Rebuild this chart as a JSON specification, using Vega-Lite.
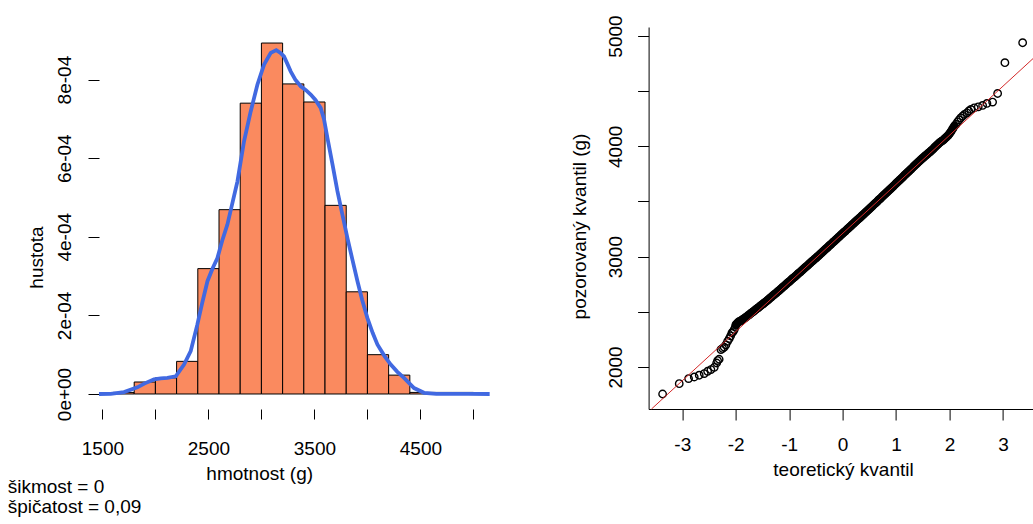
{
  "$schema": "https://vega.github.io/schema/vega-lite/v6.json",
  "background": "white",
  "padding": {"left": 7, "top": 14, "right": 0, "bottom": 0},
  "bounds": "flush",
  "spacing": 157.6,
  "config": {
    "view": {"stroke": null},
    "axis": {
      "grid": false,
      "labelFont": "Liberation Sans",
      "titleFont": "Liberation Sans",
      "labelFontSize": 19,
      "titleFontSize": 19,
      "titleFontWeight": "normal",
      "labelColor": "black",
      "titleColor": "black",
      "tickColor": "black",
      "domainColor": "black",
      "tickWidth": 1,
      "domainWidth": 1,
      "labelOverlap": false,
      "labelFlush": false
    }
  },
  "datasets": {
    "hist": [
      {"x": 1600, "x2": 1800, "y": 0.000004},
      {"x": 1800, "x2": 2000, "y": 0.0000305},
      {"x": 2000, "x2": 2200, "y": 0.000041},
      {"x": 2200, "x2": 2400, "y": 0.000083},
      {"x": 2400, "x2": 2600, "y": 0.000319},
      {"x": 2600, "x2": 2800, "y": 0.000469},
      {"x": 2800, "x2": 3000, "y": 0.00074},
      {"x": 3000, "x2": 3200, "y": 0.000893},
      {"x": 3200, "x2": 3400, "y": 0.000789},
      {"x": 3400, "x2": 3600, "y": 0.000743},
      {"x": 3600, "x2": 3800, "y": 0.00048},
      {"x": 3800, "x2": 4000, "y": 0.00026},
      {"x": 4000, "x2": 4200, "y": 0.0001},
      {"x": 4200, "x2": 4400, "y": 0.000048},
      {"x": 4400, "x2": 4600, "y": 0.000004},
      {"x": 4600, "x2": 4800, "y": 0.000004},
      {"x": 4800, "x2": 5000, "y": 0.000004}
    ],
    "dens": [
      {"x": 1468, "y": 0}, {"x": 1578, "y": 0.0000005}, {"x": 1704, "y": 0.000005},
      {"x": 1830, "y": 0.000017}, {"x": 1900, "y": 0.000027}, {"x": 1987, "y": 0.000037},
      {"x": 2050, "y": 0.00004}, {"x": 2113, "y": 0.000041}, {"x": 2192, "y": 0.000045},
      {"x": 2270, "y": 0.000075}, {"x": 2333, "y": 0.000109}, {"x": 2396, "y": 0.000177},
      {"x": 2440, "y": 0.00023}, {"x": 2491, "y": 0.000287}, {"x": 2540, "y": 0.00032},
      {"x": 2585, "y": 0.000346}, {"x": 2630, "y": 0.00039}, {"x": 2679, "y": 0.000431},
      {"x": 2730, "y": 0.00049}, {"x": 2774, "y": 0.000541}, {"x": 2836, "y": 0.000643},
      {"x": 2899, "y": 0.000719}, {"x": 2962, "y": 0.000787}, {"x": 3025, "y": 0.000838},
      {"x": 3088, "y": 0.000868}, {"x": 3140, "y": 0.000875}, {"x": 3180, "y": 0.000868},
      {"x": 3213, "y": 0.000859}, {"x": 3245, "y": 0.00084}, {"x": 3276, "y": 0.000821},
      {"x": 3320, "y": 0.0008}, {"x": 3371, "y": 0.000783}, {"x": 3420, "y": 0.000773},
      {"x": 3465, "y": 0.000762}, {"x": 3510, "y": 0.000748}, {"x": 3559, "y": 0.000728},
      {"x": 3590, "y": 0.0007}, {"x": 3623, "y": 0.000651}, {"x": 3670, "y": 0.000585},
      {"x": 3717, "y": 0.000516}, {"x": 3765, "y": 0.000455}, {"x": 3811, "y": 0.000397},
      {"x": 3860, "y": 0.00034}, {"x": 3906, "y": 0.000287}, {"x": 3950, "y": 0.00024},
      {"x": 4000, "y": 0.000193}, {"x": 4050, "y": 0.000155}, {"x": 4094, "y": 0.000126},
      {"x": 4160, "y": 0.000097}, {"x": 4220, "y": 0.000075}, {"x": 4280, "y": 0.000057},
      {"x": 4345, "y": 0.000041}, {"x": 4440, "y": 0.000015}, {"x": 4534, "y": 0.000003},
      {"x": 4650, "y": 0.0000005}, {"x": 4800, "y": 0.0000003}, {"x": 4950, "y": 0.0000003},
      {"x": 5153, "y": 0}
    ],
    "qq": [
      {"q": -3.368, "v": 1755}, {"q": -3.057, "v": 1849}, {"q": -2.882, "v": 1895},
      {"q": -2.776, "v": 1909}, {"q": -2.683, "v": 1925}, {"q": -2.589, "v": 1940},
      {"q": -2.526, "v": 1961}, {"q": -2.464, "v": 1976}, {"q": -2.402, "v": 1997},
      {"q": -2.357, "v": 2036}, {"q": -2.339, "v": 2058}, {"q": -2.31, "v": 2070},
      {"q": -2.277, "v": 2158}, {"q": -2.245, "v": 2168}, {"q": -2.215, "v": 2179},
      {"q": -2.185, "v": 2200}, {"q": -2.152, "v": 2233}, {"q": -2.121, "v": 2257},
      {"q": -2.095, "v": 2282}, {"q": -2.071, "v": 2308}, {"q": -2.05, "v": 2320},
      {"q": -2.028, "v": 2339}, {"q": -2.01, "v": 2360}, {"q": -1.996, "v": 2384},
      {"q": -1.97, "v": 2398}, {"q": -1.946, "v": 2408}, {"q": -1.92, "v": 2415},
      {"q": -1.9, "v": 2420}, {"q": -1.871, "v": 2430}, {"q": -1.84, "v": 2440},
      {"q": -1.809, "v": 2451},
      {"q": -1.78, "v": 2462}, {"q": -1.75, "v": 2473}, {"q": -1.72, "v": 2485},
      {"q": -1.69, "v": 2496}, {"q": -1.66, "v": 2507}, {"q": -1.63, "v": 2519},
      {"q": -1.6, "v": 2530}, {"q": -1.57, "v": 2541}, {"q": -1.54, "v": 2553},
      {"q": -1.51, "v": 2564}, {"q": -1.48, "v": 2575}, {"q": -1.45, "v": 2587},
      {"q": -1.42, "v": 2598}, {"q": -1.39, "v": 2611}, {"q": -1.36, "v": 2623},
      {"q": -1.33, "v": 2636}, {"q": -1.3, "v": 2648}, {"q": -1.27, "v": 2661},
      {"q": -1.24, "v": 2672}, {"q": -1.21, "v": 2686}, {"q": -1.18, "v": 2697},
      {"q": -1.15, "v": 2710}, {"q": -1.12, "v": 2724}, {"q": -1.09, "v": 2735},
      {"q": -1.06, "v": 2748}, {"q": -1.03, "v": 2762}, {"q": -1.0, "v": 2773},
      {"q": -0.97, "v": 2786}, {"q": -0.94, "v": 2800}, {"q": -0.91, "v": 2811},
      {"q": -0.88, "v": 2824}, {"q": -0.85, "v": 2838}, {"q": -0.82, "v": 2851},
      {"q": -0.79, "v": 2862}, {"q": -0.76, "v": 2876}, {"q": -0.73, "v": 2889},
      {"q": -0.7, "v": 2903}, {"q": -0.67, "v": 2914}, {"q": -0.64, "v": 2927},
      {"q": -0.61, "v": 2941}, {"q": -0.58, "v": 2954}, {"q": -0.55, "v": 2967},
      {"q": -0.52, "v": 2979}, {"q": -0.49, "v": 2992}, {"q": -0.46, "v": 3005},
      {"q": -0.43, "v": 3019}, {"q": -0.4, "v": 3032}, {"q": -0.37, "v": 3045},
      {"q": -0.34, "v": 3059}, {"q": -0.31, "v": 3072}, {"q": -0.28, "v": 3085},
      {"q": -0.25, "v": 3099}, {"q": -0.22, "v": 3112}, {"q": -0.19, "v": 3126},
      {"q": -0.16, "v": 3139}, {"q": -0.13, "v": 3152}, {"q": -0.1, "v": 3166},
      {"q": -0.07, "v": 3179}, {"q": -0.04, "v": 3192}, {"q": -0.01, "v": 3206},
      {"q": 0.02, "v": 3219}, {"q": 0.05, "v": 3232}, {"q": 0.08, "v": 3246},
      {"q": 0.11, "v": 3259}, {"q": 0.14, "v": 3272}, {"q": 0.17, "v": 3286},
      {"q": 0.2, "v": 3299}, {"q": 0.23, "v": 3312}, {"q": 0.26, "v": 3326},
      {"q": 0.29, "v": 3339}, {"q": 0.32, "v": 3352}, {"q": 0.35, "v": 3366},
      {"q": 0.38, "v": 3379}, {"q": 0.41, "v": 3393}, {"q": 0.44, "v": 3406},
      {"q": 0.47, "v": 3419}, {"q": 0.5, "v": 3433}, {"q": 0.53, "v": 3447},
      {"q": 0.56, "v": 3461}, {"q": 0.59, "v": 3475}, {"q": 0.62, "v": 3488},
      {"q": 0.65, "v": 3502}, {"q": 0.68, "v": 3516}, {"q": 0.71, "v": 3529},
      {"q": 0.74, "v": 3543}, {"q": 0.77, "v": 3557}, {"q": 0.8, "v": 3571},
      {"q": 0.83, "v": 3584}, {"q": 0.86, "v": 3598}, {"q": 0.89, "v": 3612},
      {"q": 0.92, "v": 3626}, {"q": 0.95, "v": 3640}, {"q": 0.98, "v": 3654},
      {"q": 1.01, "v": 3668}, {"q": 1.04, "v": 3682}, {"q": 1.07, "v": 3696},
      {"q": 1.1, "v": 3710}, {"q": 1.13, "v": 3724}, {"q": 1.16, "v": 3738},
      {"q": 1.19, "v": 3752}, {"q": 1.22, "v": 3766}, {"q": 1.25, "v": 3780},
      {"q": 1.28, "v": 3794}, {"q": 1.31, "v": 3808}, {"q": 1.34, "v": 3822},
      {"q": 1.37, "v": 3836}, {"q": 1.4, "v": 3850}, {"q": 1.43, "v": 3864},
      {"q": 1.46, "v": 3877}, {"q": 1.49, "v": 3890}, {"q": 1.52, "v": 3903},
      {"q": 1.55, "v": 3916}, {"q": 1.58, "v": 3928}, {"q": 1.61, "v": 3940},
      {"q": 1.64, "v": 3953}, {"q": 1.67, "v": 3966}, {"q": 1.7, "v": 3980},
      {"q": 1.73, "v": 3994}, {"q": 1.76, "v": 4008}, {"q": 1.79, "v": 4022},
      {"q": 1.82, "v": 4036}, {"q": 1.85, "v": 4046}, {"q": 1.88, "v": 4055},
      {"q": 1.91, "v": 4070}, {"q": 1.94, "v": 4084}, {"q": 1.97, "v": 4096},
      {"q": 2.0, "v": 4116}, {"q": 2.03, "v": 4136}, {"q": 2.06, "v": 4160},
      {"q": 2.09, "v": 4184}, {"q": 2.12, "v": 4200}, {"q": 2.15, "v": 4222},
      {"q": 2.18, "v": 4240}, {"q": 2.21, "v": 4258},
      {"q": 2.245, "v": 4274}, {"q": 2.28, "v": 4290}, {"q": 2.326, "v": 4304},
      {"q": 2.36, "v": 4320}, {"q": 2.4, "v": 4334}, {"q": 2.462, "v": 4349},
      {"q": 2.537, "v": 4358}, {"q": 2.619, "v": 4371}, {"q": 2.7, "v": 4389},
      {"q": 2.806, "v": 4401}, {"q": 2.9, "v": 4479}, {"q": 3.036, "v": 4758},
      {"q": 3.368, "v": 4939}
    ],
    "qqline": [
      {"q": -3.576, "v": 1619},
      {"q": 3.586, "v": 4806}
    ]
  },
  "hconcat": [
    {
      "width": 391.4,
      "height": 382,
      "title": {
        "text": ["šikmost = 0", "špičatost = 0,09"],
        "orient": "bottom",
        "anchor": "start",
        "frame": "group",
        "dx": -91.3,
        "offset": -5,
        "font": "Liberation Sans",
        "fontSize": 19,
        "fontWeight": "normal",
        "lineHeight": 20,
        "color": "black"
      },
      "encoding": {
        "x": {
          "field": "x",
          "type": "quantitative",
          "title": "hmotnost (g)",
          "scale": {"domain": [1468, 5160], "nice": false, "zero": false},
          "axis": {
            "values": [1500, 2000, 2500, 3000, 3500, 4000, 4500, 5000],
            "format": "d",
            "labelExpr": "(datum.value - 1500) % 1000 == 0 ? datum.label : ''",
            "domain": false,
            "tickSize": 10,
            "labelPadding": 20,
            "titleX": 160.2,
            "titleY": 70,
            "titleAlign": "center",
            "titleBaseline": "alphabetic"
          }
        },
        "y": {
          "field": "y",
          "type": "quantitative",
          "title": "hustota",
          "scale": {"domain": [-0.0000382, 0.0009338], "nice": false, "zero": false},
          "axis": {
            "values": [0, 0.0002, 0.0004, 0.0006, 0.0008],
            "labelExpr": "['0e+00','2e-04','4e-04','6e-04','8e-04'][round(datum.value*5000)]",
            "domain": false,
            "tickSize": 11,
            "labelPadding": 14,
            "labelAngle": 270,
            "labelAlign": "center",
            "labelBaseline": "bottom",
            "titleAngle": 270,
            "titleX": -56.6,
            "titleY": 230,
            "titleAlign": "center",
            "titleBaseline": "alphabetic"
          }
        }
      },
      "layer": [
        {
          "data": {"name": "hist"},
          "mark": {"type": "bar", "fill": "#FA8A5F", "stroke": "black", "strokeWidth": 1},
          "encoding": {
            "x2": {"field": "x2"},
            "y2": {"datum": 0}
          }
        },
        {
          "data": {"name": "dens"},
          "mark": {"type": "line", "color": "#4169E1", "strokeWidth": 3.8},
          "encoding": {}
        },
        {
          "data": {"values": [{}]},
          "mark": {"type": "rule", "color": "black", "strokeWidth": 1},
          "encoding": {
            "x": {"datum": 1500, "type": "quantitative"},
            "x2": {"datum": 5000},
            "y": {"datum": -0.0000382, "type": "quantitative"}
          }
        },
        {
          "data": {"values": [{}]},
          "mark": {"type": "rule", "color": "black", "strokeWidth": 1},
          "encoding": {
            "x": {"datum": 1468, "type": "quantitative"},
            "y": {"datum": 0, "type": "quantitative"},
            "y2": {"datum": 0.0008}
          }
        }
      ]
    },
    {
      "width": 385.7,
      "height": 382,
      "encoding": {
        "x": {
          "field": "q",
          "type": "quantitative",
          "title": "teoretický kvantil",
          "scale": {"domain": [-3.63, 3.586], "nice": false, "zero": false},
          "axis": {
            "values": [-3, -2, -1, 0, 1, 2, 3],
            "labelExpr": "toString(datum.value)",
            "domain": true,
            "tickSize": 11,
            "labelPadding": 15,
            "titleX": 194.4,
            "titleY": 66,
            "titleAlign": "center",
            "titleBaseline": "alphabetic"
          }
        },
        "y": {
          "field": "v",
          "type": "quantitative",
          "title": "pozorovaný kvantil (g)",
          "scale": {"domain": [1619, 5081.6], "nice": false, "zero": false},
          "axis": {
            "values": [2000, 2500, 3000, 3500, 4000, 4500, 5000],
            "format": "d",
            "labelExpr": "datum.value % 1000 == 0 ? datum.label : ''",
            "domain": true,
            "tickSize": 11,
            "labelPadding": 12,
            "labelAngle": 270,
            "labelAlign": "center",
            "labelBaseline": "bottom",
            "titleAngle": 270,
            "titleX": -63.3,
            "titleY": 199,
            "titleAlign": "center",
            "titleBaseline": "alphabetic"
          }
        }
      },
      "layer": [
        {
          "data": {"name": "qq"},
          "transform": [{"filter": "datum.q > -2.0 && datum.q < 2.1"}],
          "mark": {"type": "line", "color": "black", "strokeWidth": 8, "strokeCap": "round", "strokeJoin": "round"},
          "encoding": {}
        },
        {
          "data": {"name": "qq"},
          "mark": {"type": "point", "filled": false, "color": "black", "size": 55, "strokeWidth": 1.4, "opacity": 1}
        },
        {
          "data": {"name": "qqline"},
          "mark": {"type": "line", "color": "#D42A2A", "strokeWidth": 1},
          "encoding": {}
        },
        {
          "data": {"values": [{}]},
          "mark": {"type": "rule", "color": "black", "strokeWidth": 1},
          "encoding": {
            "x": {"datum": -3.63, "type": "quantitative"},
            "x2": {"datum": 3.586},
            "y": {"datum": 5081.6, "type": "quantitative"}
          }
        }
      ]
    }
  ]
}
